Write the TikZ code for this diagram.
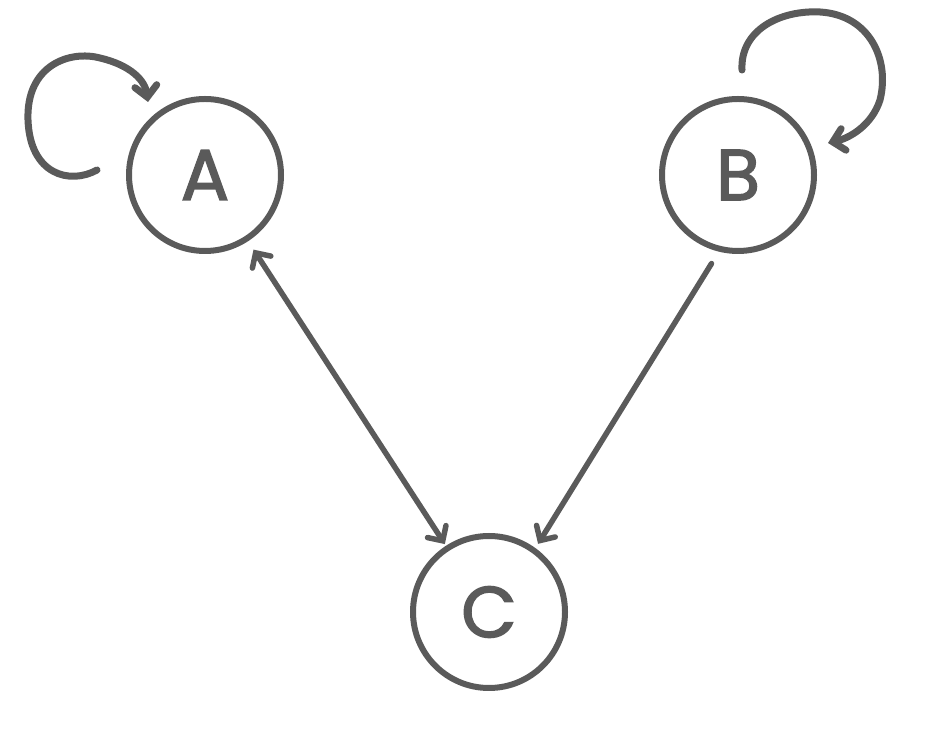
\documentclass[tikz,border=0pt]{standalone}
\usepackage{fontspec}
\setmainfont{Poppins}
\usetikzlibrary{arrows.meta}
\definecolor{ink}{HTML}{5A5A5A}
\font\labfont="Poppins:embolden=2" at 72pt
\begin{document}
\begin{tikzpicture}[x=1pt,y=1pt,
  state/.style={circle,draw=ink,line width=6pt,minimum size=152pt,inner sep=0pt,text=ink,font=\labfont},
  conn/.style={draw=ink,line width=5.5pt,line cap=round,line join=round},
  loopline/.style={conn,line width=7pt},
  tip/.style={-{Straight Barb[length=11pt,width=22pt,line cap=round]}},
  dtip/.style={{Straight Barb[length=11pt,width=22pt,line cap=round]}-{Straight Barb[length=11pt,width=22pt,line cap=round]}}]
\useasboundingbox (0,0) rectangle (934,733);
\node[state] (A) at (205,558) {A};
\node[state] (B) at (738,558) {B};
\node[state] (C) at (489,121) {C};
\coordinate (a1) at (97,563);
\coordinate (a2) at (148,631);
\coordinate (b1) at (742,663);
\coordinate (b2) at (828,590);
\draw[loopline,tip] (a1) .. controls (70,548) and (30,558) .. (28,613)
  .. controls (26,668) and (70,683) .. (100,675)
  .. controls (130,668) and (145,653) .. (a2);
\draw[loopline,tip] (b1) .. controls (740,703) and (780,723) .. (820,721)
  .. controls (870,718) and (890,673) .. (880,633)
  .. controls (872,608) and (850,595) .. (b2);
\draw[conn,dtip,shorten <=10pt,shorten >=2pt] (A) -- (C);
\draw[conn,tip,shorten <=14pt,shorten >=5pt] (B.256) -- (C.54);
\end{tikzpicture}
\end{document}
